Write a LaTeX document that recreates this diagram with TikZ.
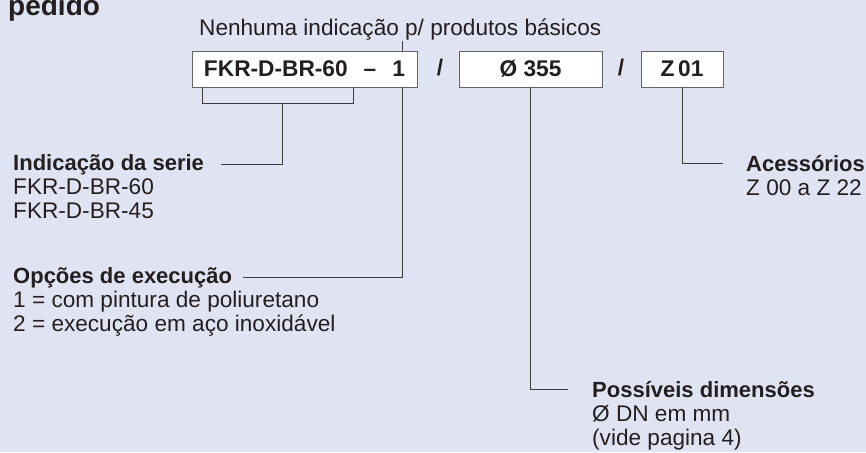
\documentclass[tikz,border=0pt]{standalone}
\usepackage{fontspec}
\setmainfont{Liberation Sans}
\usepackage{xcolor}
\usepackage{tikz}
\usetikzlibrary{positioning}
\usetikzlibrary{calc}

\definecolor{fundo}{RGB}{224,228,242}
\definecolor{traco}{RGB}{62,62,62}
\definecolor{texto}{RGB}{35,31,32}

\begin{document}
\begin{tikzpicture}[x=1pt,y=-1pt,
    campo/.style={draw=traco!80,line width=0.8pt,fill=white,inner sep=0pt,
      minimum height=36pt,font=\fontsize{22.7}{24}\selectfont\bfseries,text=texto},
    rotulo/.style={anchor=base west,inner sep=0pt,text=texto,
      font=\fontsize{22.6}{24}\selectfont},
    titulo/.style={rotulo,font=\fontsize{22}{24}\selectfont\bfseries}]
	          \fill[fundo] (0,0) rectangle (866,452);
	          \useasboundingbox (0,0) rectangle (866,452);
	          % heading and hint
	          \node[rotulo,font=\fontsize{28}{30}\selectfont\bfseries] (pedido) at (8,16) {pedido};
	          \node[rotulo] (hint) at (199,36) {Nenhuma indicação p/ produtos básicos};
	          % code fields
	          \begin{scope}[every node/.style={campo}]
	            \node[minimum width=225pt] (tipo) at (304.5,69) {FKR-D-BR-60\hspace{16pt}–\hspace{16pt}1};
	            \node[minimum width=143pt] (dim) at (530.5,69) {Ø 355};
	            \node[minimum width=82pt] (acc) at (682,69) {Z\,01};
	          \end{scope}
	          \begin{scope}[every node/.style={inner sep=0pt,text=texto,font=\fontsize{22.7}{24}\selectfont\bfseries}]
	            \node (barra1) at (440,68) {/};
	            \node (barra2) at (621,68) {/};
	          \end{scope}
	          % explanations
	          \node[titulo] (serie) at (13,170) {Indicação da serie};
	          \node[rotulo] (serieA) at (13,194) {FKR-D-BR-60};
	          \node[rotulo] (serieB) at (13,218) {FKR-D-BR-45};
	          \node[titulo] (opcoes) at (13,283) {Opções de execução};
	          \node[rotulo] (opcoesA) at (13,307) {1 = com pintura de poliuretano};
	          \node[rotulo] (opcoesB) at (13,331) {2 = execução em aço inoxidável};
	          \node[titulo] (poss) at (592,397) {Possíveis dimensões};
	          \node[rotulo] (possA) at (592,421) {Ø DN em mm};
	          \node[rotulo] (possB) at (592,445) {(vide pagina 4)};
	          \node[titulo] (acess) at (746,171) {Acessórios};
	          \node[rotulo] (acessA) at (746,195) {Z 00 a Z 22};
	          % helper points
	          \coordinate (opt) at (402,69);
	          \coordinate (brL) at (202,103);
	          \coordinate (brM) at (282,103);
	          \coordinate (brR) at (353,103);
	          \begin{scope}[draw=traco,line width=0.9pt]
	            \draw (hint.south -| opt) -- (tipo.north -| opt);
	            \draw (tipo.south -| brL) -- (brL) -- (brR) -- (tipo.south -| brR);
	            \draw (brM) |- ([xshift=17pt]serie.east);
	            \draw (tipo.south -| opt) |- ([xshift=11pt]opcoes.east);
	            \draw (dim.south) |- ([xshift=-24pt]poss.west);
	            \draw (acc.south) |- ([xshift=-23pt]acess.west);
	          \end{scope}
	        \end{tikzpicture}
\end{document}
